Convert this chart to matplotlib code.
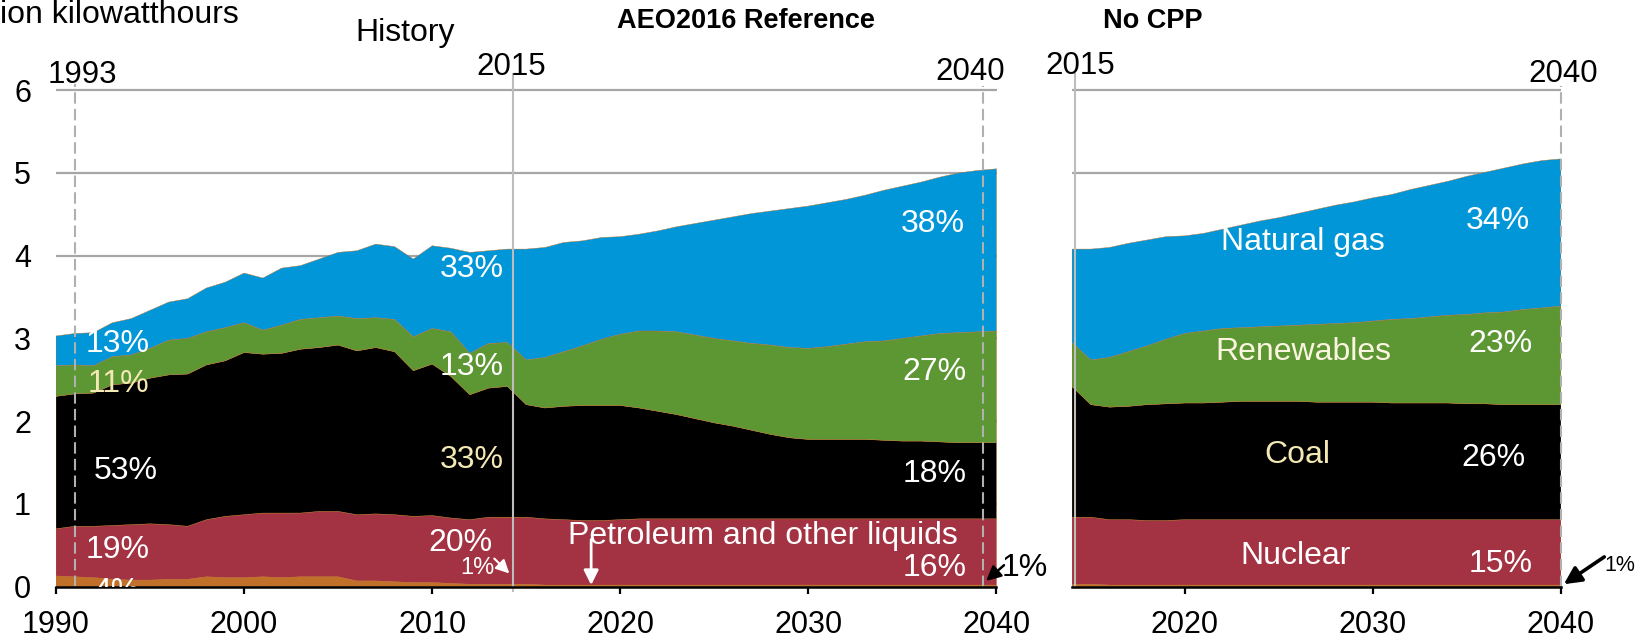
import matplotlib
matplotlib.use("Agg")
import matplotlib.pyplot as plt
import numpy as np

plt.rcParams['font.family'] = ['Liberation Sans', 'DejaVu Sans']

# trillion kWh by source, history 1990-2015
hist_years = list(range(1990, 2016))
hist_petroleum = [0.13, 0.12, 0.11, 0.09, 0.08, 0.08, 0.09, 0.09, 0.12, 0.11, 0.11, 0.12, 0.11,
                  0.12, 0.12, 0.12, 0.07, 0.07, 0.06, 0.05, 0.05, 0.04, 0.03, 0.03, 0.03, 0.03]
hist_nuclear = [0.57, 0.61, 0.62, 0.65, 0.67, 0.68, 0.66, 0.64, 0.69, 0.74, 0.76, 0.77, 0.78,
                0.77, 0.79, 0.79, 0.80, 0.81, 0.81, 0.80, 0.81, 0.79, 0.78, 0.81, 0.81, 0.81]
hist_coal = [1.60, 1.60, 1.61, 1.70, 1.71, 1.76, 1.81, 1.84, 1.87, 1.88, 1.96, 1.92, 1.93,
             1.98, 1.98, 2.01, 1.98, 2.01, 1.97, 1.76, 1.83, 1.71, 1.51, 1.56, 1.58, 1.36]
hist_renewables = [0.37, 0.35, 0.33, 0.34, 0.34, 0.36, 0.42, 0.43, 0.40, 0.40, 0.36, 0.29, 0.34,
                   0.36, 0.36, 0.35, 0.39, 0.36, 0.39, 0.41, 0.43, 0.54, 0.50, 0.54, 0.53, 0.54]
hist_gas = [0.36, 0.38, 0.40, 0.41, 0.44, 0.46, 0.46, 0.48, 0.53, 0.55, 0.60, 0.63, 0.69,
            0.65, 0.71, 0.77, 0.82, 0.89, 0.88, 0.94, 1.00, 1.01, 1.22, 1.12, 1.13, 1.34]

# projections 2016-2040
proj_years = list(range(2016, 2041))
ref_petroleum = [0.02] * 25
ref_nuclear = [0.80, 0.79, 0.78, 0.78, 0.79] + [0.80] * 20
ref_coal = [1.34, 1.37, 1.39, 1.39, 1.38, 1.34, 1.30, 1.26, 1.21, 1.16, 1.12, 1.07, 1.02,
            0.98, 0.96, 0.96, 0.96, 0.96, 0.95, 0.94, 0.94, 0.93, 0.92, 0.92, 0.92]
ref_renewables = [0.61, 0.66, 0.72, 0.80, 0.86, 0.93, 0.97, 1.00, 1.01, 1.02, 1.03, 1.05, 1.08,
                  1.09, 1.10, 1.12, 1.15, 1.18, 1.20, 1.24, 1.27, 1.31, 1.33, 1.34, 1.35]
ref_gas = [1.33, 1.32, 1.27, 1.23, 1.18, 1.17, 1.21, 1.27, 1.35, 1.43, 1.50, 1.57, 1.62,
           1.68, 1.72, 1.74, 1.75, 1.77, 1.82, 1.84, 1.86, 1.89, 1.93, 1.95, 1.96]

nocpp_petroleum = [0.02] * 25
nocpp_nuclear = [0.79, 0.79, 0.78, 0.78] + [0.79] * 21
nocpp_coal = [1.36, 1.37, 1.40, 1.41, 1.41, 1.41, 1.42, 1.43, 1.43, 1.43, 1.43, 1.42, 1.42,
              1.42, 1.42, 1.41, 1.41, 1.41, 1.41, 1.40, 1.40, 1.39, 1.39, 1.39, 1.39]
nocpp_renewables = [0.60, 0.66, 0.71, 0.78, 0.84, 0.87, 0.89, 0.89, 0.90, 0.91, 0.92, 0.94, 0.95,
                    0.96, 0.98, 1.01, 1.02, 1.04, 1.06, 1.08, 1.10, 1.12, 1.15, 1.17, 1.19]
nocpp_gas = [1.33, 1.31, 1.28, 1.24, 1.18, 1.18, 1.20, 1.24, 1.28, 1.31, 1.35, 1.39, 1.43,
             1.46, 1.49, 1.51, 1.56, 1.59, 1.62, 1.67, 1.70, 1.74, 1.76, 1.78, 1.78]

colors = ['#C07028', '#A33242', '#000000', '#5C9733', '#0096D7']
cream = '#F4E8B5'
grid_gray = '#A6A6A6'
line_gray = '#BDBDBD'

W, H = 1635, 642
fig = plt.figure(figsize=(W / 100, H / 100), dpi=100)

ymax = 6.3
unit = 82.75
y0 = 586.7
ax_h = ymax * unit / H
ax_b = (H - y0) / H

axL = fig.add_axes([56 / W, ax_b, 940.5 / W, ax_h])
axR = fig.add_axes([1072 / W, ax_b, 489 / W, ax_h])

left_years = hist_years + proj_years
left_series = [hist_petroleum + ref_petroleum, hist_nuclear + ref_nuclear, hist_coal + ref_coal,
               hist_renewables + ref_renewables, hist_gas + ref_gas]
axL.stackplot(left_years, *left_series, colors=colors, linewidth=0.3, edgecolors=colors, zorder=2)

right_years = hist_years[-2:] + proj_years
right_series = [hist_petroleum[-2:] + nocpp_petroleum, hist_nuclear[-2:] + nocpp_nuclear,
                hist_coal[-2:] + nocpp_coal, hist_renewables[-2:] + nocpp_renewables,
                hist_gas[-2:] + nocpp_gas]
axR.stackplot(right_years, *right_series, colors=colors, linewidth=0.3, edgecolors=colors, zorder=2)

for ax in (axL, axR):
    ax.set_ylim(0, ymax)
    ax.set_yticks(range(0, 7))
    ax.yaxis.grid(True, color=grid_gray, linewidth=1.6)
    ax.set_axisbelow(True)
    for s in ('top', 'right', 'left'):
        ax.spines[s].set_visible(False)
    ax.spines['bottom'].set_linewidth(1.8)
    ax.spines['bottom'].set_zorder(5)
    ax.tick_params(axis='x', length=5, width=1.6, pad=12, labelsize=22, direction='out')
    ax.tick_params(axis='y', length=0, pad=18, labelsize=22)

axL.set_xlim(1990, 2040)
axL.set_xticks(range(1990, 2041, 10))
axR.set_xlim(2014, 2040)
axR.set_xticks([2020, 2030, 2040])
axR.set_yticklabels([])

# reference lines
dash = (0, (5.5, 2.5))
axL.plot([1991, 1991], [0, 6.08], color='#B0B0B0', lw=1.5, ls=dash, clip_on=False, zorder=4)
axL.plot([2039.3, 2039.3], [0, 6.05], color='#B0B0B0', lw=1.5, ls=dash, clip_on=False, zorder=4)
axL.plot([2014.3, 2014.3], [-0.05, 6.2], color=line_gray, lw=1.5, clip_on=False, zorder=4)
axR.plot([2014.15, 2014.15], [0, 6.2], color=line_gray, lw=1.5, clip_on=False, zorder=4)
axR.plot([2040, 2040], [0, 6.05], color='#B0B0B0', lw=1.5, ls=dash, clip_on=False, zorder=4)

# header texts (figure pixels from top-left)
def ftext(x, y, s, **kw):
    fig.text(x / W, 1 - y / H, s, ha='center', va='center', **kw)

fig.text(0, 1 - 15 / H, 'ion kilowatthours', ha='left', va='center', fontsize=23)
ftext(405, 33, 'History', fontsize=23)
ftext(746, 21, 'AEO2016 Reference', fontsize=19.5, fontweight='bold')
ftext(1153, 21, 'No CPP', fontsize=19.5, fontweight='bold')
ftext(82, 75, '1993', fontsize=22.5)
ftext(511, 67, '2015', fontsize=22.5)
ftext(970, 72, '2040', fontsize=22.5)
ftext(1080, 66, '2015', fontsize=22.5)
ftext(1563, 74, '2040', fontsize=22.5)

# labels in left panel
def lab(ax, x, y, s, color='white', size=23, **kw):
    ax.text(x, y, s, color=color, fontsize=size, ha='center', va='center', zorder=6, **kw)

lab(axL, 1993.3, 2.93, '13%')
lab(axL, 1993.3, 2.45, '11%', color=cream)
lab(axL, 1993.7, 1.40, '53%')
lab(axL, 1993.3, 0.44, '19%')
lab(axL, 1993.2, -0.06, '4%', clip_on=True)
lab(axL, 2012.1, 3.84, '33%')
lab(axL, 2012.1, 2.66, '13%')
lab(axL, 2012.1, 1.53, '33%', color=cream)
lab(axL, 2011.5, 0.53, '20%')
lab(axL, 2012.4, 0.22, '1%', size=17)
axL.annotate('', xy=(2014.1, 0.16), xytext=(2013.3, 0.34), zorder=6,
             arrowprops=dict(arrowstyle='-|>', color='white', lw=1.5, mutation_scale=20,
                             shrinkA=0, shrinkB=0))
lab(axL, 2036.6, 4.38, '38%')
lab(axL, 2036.7, 2.59, '27%')
lab(axL, 2036.7, 1.36, '18%')
lab(axL, 2027.6, 0.61, 'Petroleum and other liquids')
axL.annotate('', xy=(2018.45, 0.02), xytext=(2018.45, 0.57), zorder=6,
             arrowprops=dict(arrowstyle='-|>', color='white', lw=2, mutation_scale=22,
                             shrinkA=0, shrinkB=0))
lab(axL, 2036.7, 0.23, '16%')
axL.annotate('', xy=(2039.45, 0.07), xytext=(2040.4, 0.26), annotation_clip=False, zorder=6,
             arrowprops=dict(arrowstyle='-|>', color='black', lw=1.8, mutation_scale=22,
                             shrinkA=0, shrinkB=0))
axL.text(2041.5, 0.23, '1%', fontsize=23, ha='center', va='center', clip_on=False)

# labels in right panel
lab(axR, 2026.3, 4.17, 'Natural gas')
lab(axR, 2036.65, 4.42, '34%')
lab(axR, 2026.3, 2.84, 'Renewables', color='#FBF5E0')
lab(axR, 2036.8, 2.93, '23%')
lab(axR, 2026.0, 1.59, 'Coal', color=cream)
lab(axR, 2036.4, 1.55, '26%')
lab(axR, 2025.9, 0.37, 'Nuclear')
lab(axR, 2036.8, 0.28, '15%')
axR.annotate('', xy=(2040.15, 0.03), xytext=(2042.3, 0.36), annotation_clip=False, zorder=6,
             arrowprops=dict(arrowstyle='-|>', color='black', lw=2.6, mutation_scale=26,
                             shrinkA=0, shrinkB=0))
axR.text(2042.3, 0.26, '1%', fontsize=15.5, ha='left', va='center', clip_on=False)

fig.savefig('out.png', dpi=100)
